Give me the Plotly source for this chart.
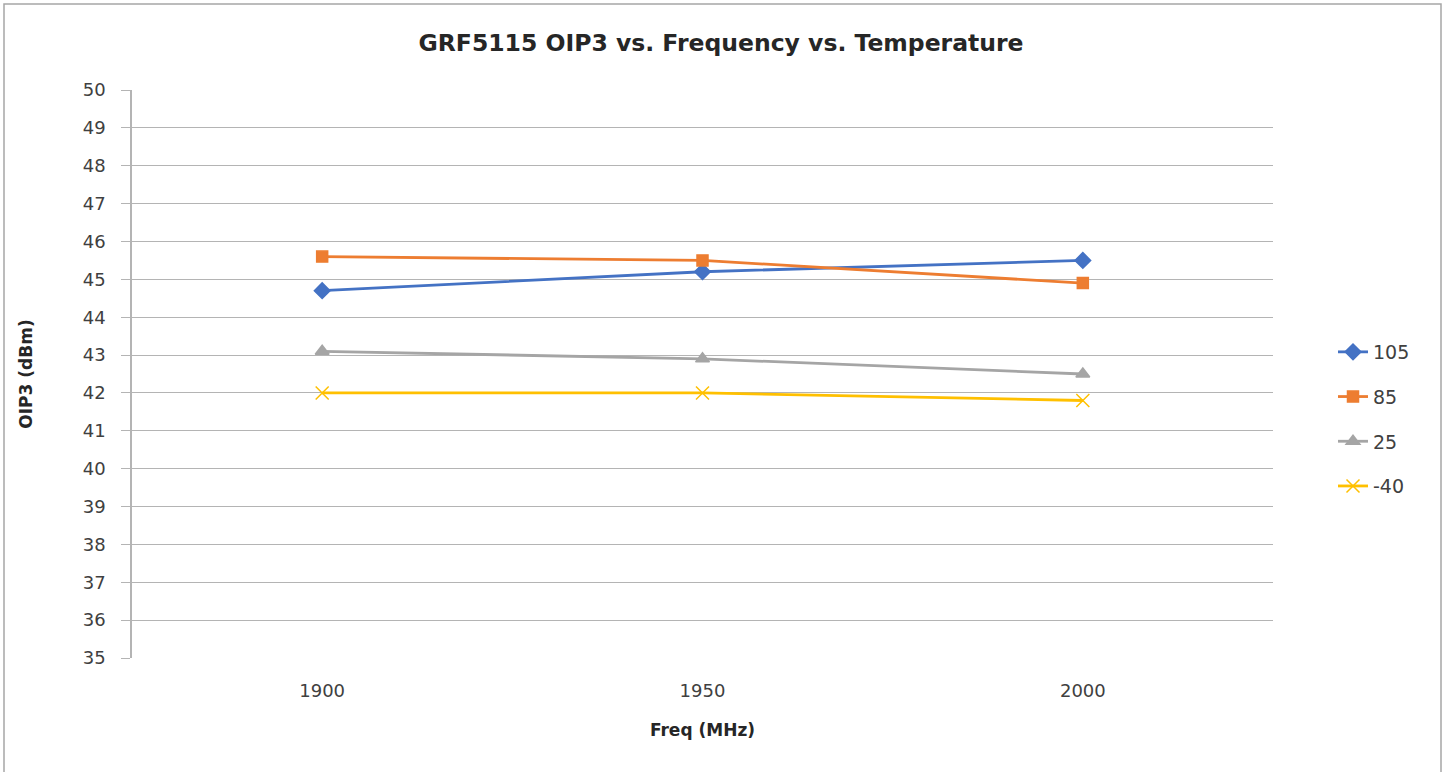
import plotly.graph_objects as go

freqs = ["1900", "1950", "2000"]
temps = ["105", "85", "25", "-40"]
oip3_105 = [44.7, 45.2, 45.5]
oip3_85 = [45.6, 45.5, 44.9]
oip3_25 = [43.1, 42.9, 42.5]
oip3_m40 = [42.0, 42.0, 41.8]

series = [oip3_105, oip3_85, oip3_25, oip3_m40]
colors = ["#4472C4", "#ED7D31", "#A5A5A5", "#FFC000"]
symbols = ["diamond", "square", "triangle-up", "x-thin-open"]
sizes = [12, 11, 12, 13]

W, H = 1445, 772
L, R, T, B = 132, 172, 90, 114
pw, ph = W - L - R, H - T - B

fig = go.Figure()
for name, vals, c, s, sz in zip(temps, series, colors, symbols, sizes):
    fig.add_trace(go.Scatter(
        x=freqs, y=vals, name=name, mode="lines+markers",
        line=dict(color=c, width=2.8),
        marker=dict(symbol=s, size=sz, color=c, line=dict(color=c, width=1.5)),
        legendgroup=name,
    ))

font = "'DejaVu Sans', sans-serif"
fig.update_layout(
    width=W, height=H,
    margin=dict(l=L, r=R, t=T, b=B),
    paper_bgcolor="white", plot_bgcolor="white",
    font=dict(family=font, color="#404040", size=18),
    title=dict(text="<b>GRF5115 OIP3 vs. Frequency vs. Temperature</b>",
               x=(721) / W, xanchor="center", y=1 - 43 / H, yanchor="middle",
               font=dict(size=23.5, color="#262626", family=font)),
    xaxis=dict(type="category", range=[-0.5, 2.5], showgrid=False,
               showline=False, ticks="", zeroline=False, ticklabelstandoff=20,
               tickfont=dict(size=18, color="#404040"),
               title=dict(text="<b>Freq (MHz)</b>", font=dict(size=17, color="#262626"), standoff=24)),
    yaxis=dict(range=[35, 50], dtick=1, showgrid=True, gridcolor="#B4B4B4", gridwidth=1.2,
               showline=True, linecolor="#B4B4B4", linewidth=1.5,
               ticks="outside", ticklen=9, tickcolor="#B4B4B4", ticklabelstandoff=12,
               zeroline=False, tickfont=dict(size=18, color="#404040"),
               title=dict(text="<b>OIP3 (dBm)</b>", font=dict(size=17, color="#262626"), standoff=46)),
    legend=dict(x=(1333 - L) / pw, xanchor="left", y=(H - B - 333) / ph, yanchor="top",
                font=dict(size=19, color="#404040"), tracegroupgap=17,
                itemwidth=30, bgcolor="rgba(0,0,0,0)"),
    showlegend=True,
)

# outer chart border (left, top, right sides visible)
fig.add_shape(type="rect", xref="paper", yref="paper",
              x0=(4 - L) / pw, x1=(1441 - L) / pw,
              y0=(H - B - 790) / ph, y1=(H - B - 4) / ph,
              line=dict(color="#A6A6A6", width=1.5), fillcolor="rgba(0,0,0,0)", layer="below")

fig.write_html("out.html", config={"displayModeBar": False},
               post_script="document.body.style.margin='0';document.body.style.overflow='hidden';")
